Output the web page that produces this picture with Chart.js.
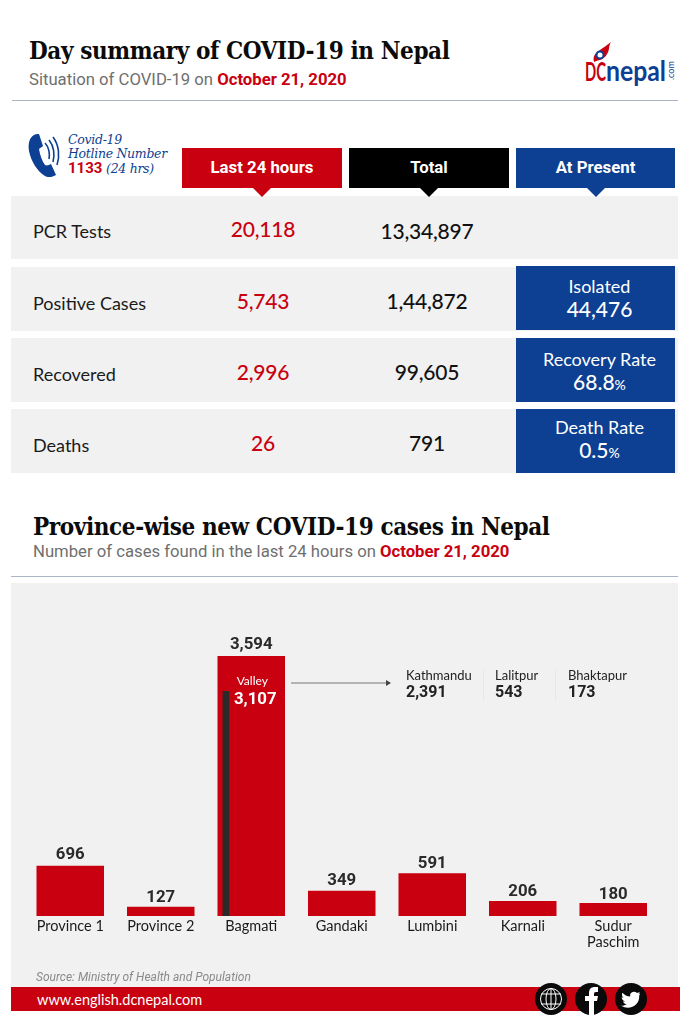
<!DOCTYPE html>
<html>
<head>
<meta charset="utf-8">
<title>Day summary of COVID-19 in Nepal</title>
<script src="https://cdn.jsdelivr.net/npm/chart.js@4/dist/chart.umd.min.js"></script>
<style>
html, body { margin: 0; padding: 0; background: #fff; }
#page { position: relative; z-index: 0; width: 694px; height: 1024px; overflow: hidden; font-family: Lato, sans-serif; color: #111; }
#page > * { position: absolute; }
.title { font-family: "DejaVu Serif Condensed", "DejaVu Serif", serif; font-stretch: condensed; font-weight: 700; font-size: 24px; letter-spacing: -0.4px; color: #0b0b0b; white-space: nowrap; line-height: 28px; }
.sub { font-family: Roboto, sans-serif; font-size: 16.7px; color: #6f6f6f; white-space: nowrap; line-height: 20px; }
.sub b { color: #c9000f; font-weight: 700; }
.rule { height: 1px; background: #a9b6c6; }
.head { top: 148px; height: 40px; line-height: 38px; width: 160px; text-align: center; color: #fff; font-family: Roboto, sans-serif; font-weight: 700; font-size: 16.8px; }
.head::after { content: ""; position: absolute; left: 50%; margin-left: -9px; top: 40px; border-left: 9px solid transparent; border-right: 9px solid transparent; border-top: 9px solid; border-top-color: inherit; }
.row { left: 11px; width: 667px; background: #f1f1f1; }
.rowLabel { left: 33px; font-size: 18px; line-height: 24px; color: #1a1a1a; }
.num { width: 160px; text-align: center; font-size: 21px; letter-spacing: -0.2px; font-weight: 500; line-height: 28px; }
.present { left: 516px; width: 159px; background: #0d3f92; color: #fff; text-align: center; font-size: 18px; line-height: 22px; padding-left: 8px; box-sizing: border-box; }
.present span { display: block; font-size: 21px; font-weight: 500; line-height: 24px; }
.present small { font-size: 14px; }
.panel { left: 11px; top: 583px; width: 667px; height: 404px; background: #f1f1f1; }
#chartBox { left: 11px; top: 583px; width: 667px; height: 404px; }
.district { font-size: 13px; line-height: 16px; color: #222; white-space: nowrap; }
.district b { display: block; font-family: Roboto, sans-serif; font-size: 16px; line-height: 17px; color: #222; }
.divider { width: 1px; top: 670px; height: 32px; background: #e8e8e8; }
.footer { left: 11px; top: 987px; width: 669px; height: 24px; background: #c9000f; color: #fff; font-size: 14.5px; line-height: 26px; }
.footer span { margin-left: 26px; }
.social { width: 32px; height: 32px; border-radius: 50%; background: #0a0a0a; top: 983px; color: #fff; text-align: center; }
</style>
</head>
<body>
<div id="page">
    <div class="title" style="left:29px;top:37px">Day summary of COVID-19 in Nepal</div>
    <div class="sub" style="left:29px;top:70px">Situation of COVID-19 on <b>October 21, 2020</b></div>

    <div style="left:584px;top:42px;width:92px;height:44px">
        <svg width="92" height="44" viewBox="0 0 92 44">
            <path d="M10 20 C8 12 14 10 16 8 C19 6 23 3 27 0 C24 5 26 8 23 12 C21 17 15 18 10 20Z" fill="#c9000f"/>
            <circle cx="16" cy="13" r="3.500" fill="#fff" stroke="#0d3f92" stroke-width="2"/>
            <text x="1" y="39" font-family="Lato" font-weight="700" font-size="27" fill="#c9000f" textLength="21" lengthAdjust="spacingAndGlyphs">DC</text>
            <text x="22" y="39" font-family="Lato" font-weight="700" font-size="29" fill="#0d3f92" textLength="60" lengthAdjust="spacingAndGlyphs">nepal</text>
            <text x="0" y="0" transform="translate(90,38) rotate(-90)" font-family="Lato" font-size="9" fill="#0d3f92">.com</text>
        </svg>
    </div>
    <div class="rule" style="left:12px;top:100px;width:666px"></div>

    <svg style="left:28px;top:134px" width="34" height="44" viewBox="0 0 34 44">
        <path d="M6 1 C1 4 0 10 1 17 C3 27 9 37 17 42 C20 44 25 43 28 41 L23 30 C21 31 19 32 17 31 C14 27 12 21 11 15 C12 14 14 13 15 12 L11 0 C9 0 7 0 6 1Z" fill="#0d3f92"/>
        <path d="M17 9 C21 13 22 20 21 25 M21 6 C26 12 27 21 25 28 M25 3 C31 11 32 22 29 31" fill="none" stroke="#0d3f92" stroke-width="1.6"/>
    </svg>
    <div style="left:68px;top:133px;font-family:'DejaVu Serif',serif;font-style:italic;font-size:12.5px;line-height:14px;color:#0d3f92;white-space:nowrap;letter-spacing:-0.3px">Covid-19<br>Hotline Number<br><b style="font-family:Roboto;font-style:normal;font-size:15px;color:#c9000f;letter-spacing:0">1133</b> (24 hrs)</div>

    <div class="head" style="left:182px;background:#c9000f;border-top-color:#c9000f">Last 24 hours</div>
    <div class="head" style="left:349px;background:#000;border-top-color:#000">Total</div>
    <div class="head" style="left:516px;width:159px;background:#0d3f92;border-top-color:#0d3f92">At Present</div>

    <div class="title" style="left:33px;top:513px">Province-wise new COVID-19 cases in Nepal</div>
    <div class="sub" style="left:33px;top:542px">Number of cases found in the last 24 hours on <b>October 21, 2020</b></div>
    <div class="rule" style="left:11px;top:576px;width:667px"></div>

    <div class="panel"></div>
    <div id="chartBox"><canvas id="provinceChart"></canvas></div>

    <svg style="left:290px;top:678px" width="104" height="10">
        <line x1="1" y1="5" x2="100" y2="5" stroke="#777" stroke-width="1"/>
        <path d="M96 2 L101 5 L96 8Z" fill="#444"/>
    </svg>

    <div style="left:36px;top:970px;font-family:Roboto,sans-serif;font-style:italic;font-size:12px;line-height:14px;color:#8a8a8a">Source: Ministry of Health and Population</div>
    <div class="footer"><span>www.english.dcnepal.com</span></div>
    <div class="social" style="left:535px">
        <svg width="32" height="32" viewBox="0 0 32 32" fill="none" stroke="#fff" stroke-width="1">
            <circle cx="16" cy="16" r="10.5"/>
            <ellipse cx="16" cy="16" rx="5" ry="10.5"/>
            <path d="M6 11 H26 M6 21 H26 M16 5.5 V26.5"/>
        </svg>
    </div>
    <div class="social" style="left:575px">
        <svg width="32" height="32" viewBox="0 0 32 32"><path d="M14 32 V18 H10 V13 H14 V10 C14 6 16 4 20 4 H23 V9 H21 C19.500 9 19 9.700 19 11 V13 H23 L22 18 H19 V32Z" fill="#fff"/></svg>
    </div>
    <div class="social" style="left:615px">
        <svg width="32" height="32" viewBox="0 0 32 32"><path d="M25 10.500 C24 11 23.500 11 23 11.200 C24 10.500 24.500 9.800 24.700 9 C23.800 9.500 23 9.800 22 10 C20 8 16 8.500 15.200 11.500 C15 12.300 15.100 13 15.200 13.500 C12 13.300 9.500 12 7.500 9.700 C6.500 11.500 7 13.500 8.500 14.800 C7.800 14.800 7.200 14.600 6.700 14.300 C6.700 16.300 8 17.800 10 18.300 C9.300 18.500 8.700 18.500 8 18.400 C8.600 20 10 21 11.800 21.100 C10 22.500 8 23 6 22.800 C15 28 25 22 24.200 12.500 C24.500 12 25 11.500 25 10.500Z" fill="#fff"/></svg>
    </div>
</div>

<script>
// Day summary table
const rowLabels = ['PCR Tests', 'Positive Cases', 'Recovered', 'Deaths'];
const last24Hours = ['20,118', '5,743', '2,996', '26'];
const totals = ['13,34,897', '1,44,872', '99,605', '791'];
const presentLabels = ['Isolated', 'Recovery Rate', 'Death Rate'];
const presentValues = ['44,476', '68.8<small>%</small>', '0.5<small>%</small>'];

// Province chart
const provinces = ['Province 1', 'Province 2', 'Bagmati', 'Gandaki', 'Lumbini', 'Karnali', ['Sudur', 'Paschim']];
const newCases = [696, 127, 3594, 349, 591, 206, 180];
const valleyCases = 3107;
const districts = ['Kathmandu', 'Lalitpur', 'Bhaktapur'];
const districtCases = ['2,391', '543', '173'];

const page = document.getElementById('page');

function addBlock(className, style, html) {
    const el = document.createElement('div');
    el.className = className;
    el.style.cssText = style;
    el.innerHTML = html;
    page.appendChild(el);
}

// Summary rows
const rowTops = [196, 267, 338, 409];
const rowHeights = [63, 64, 64, 64];
rowLabels.forEach((label, i) => {
    const top = rowTops[i];
    const shift = i > 0 ? 1 : 0;
    addBlock('row', `top:${top}px;height:${rowHeights[i]}px;z-index:-1`, '');
    addBlock('rowLabel', `top:${top + 23 + shift}px`, label);
    addBlock('num', `left:183px;top:${top + 19 + shift}px;color:#c9000f`, last24Hours[i]);
    addBlock('num', `left:347px;top:${top + 21 - shift}px`, totals[i]);
});
const presentPadding = [9, 10, 7];
presentLabels.forEach((label, i) => {
    addBlock('present', `top:${rowTops[i + 1] - (i === 0 ? 1 : 0)}px;height:64px;padding-top:${presentPadding[i]}px`, `${label}<span>${presentValues[i]}</span>`);
});

// District callout
const districtLeft = [406, 495, 568];
districts.forEach((name, i) => {
    addBlock('district', `left:${districtLeft[i]}px;top:667px`, `${name}<b>${districtCases[i]}</b>`);
});
addBlock('divider', 'left:483px', '');
addBlock('divider', 'left:555px', '');

const fmt = n => n.toLocaleString('en-US');

// Gap between a bar top and its value, the small bars sit closer
const labelGaps = [7, 5, 7, 6, 5, 5, 4];

// Writes the value above each bar and the valley figure inside Bagmati
const barLabels = {
    id: 'barLabels',
    afterDatasetsDraw(chart) {
        const { ctx } = chart;
        const bars = chart.getDatasetMeta(0).data;
        ctx.save();
        ctx.textAlign = 'center';
        ctx.textBaseline = 'alphabetic';
        ctx.fillStyle = '#2a2a2a';
        ctx.font = '700 16.8px Roboto';
        bars.forEach((bar, i) => {
            ctx.fillText(fmt(newCases[i]), bar.x, bar.y - labelGaps[i]);
        });
        const bagmati = bars[2];
        ctx.fillStyle = '#fff';
        ctx.font = '12px Lato';
        ctx.fillText('Valley', bagmati.x + 1, bagmati.y + 29);
        ctx.font = '700 16.8px Roboto';
        ctx.fillText(fmt(valleyCases), bagmati.x + 4, bagmati.y + 48);
        ctx.restore();
    }
};

new Chart(document.getElementById('provinceChart'), {
    type: 'bar',
    data: {
        labels: provinces,
        datasets: [
            {
                data: newCases,
                backgroundColor: '#c9000f',
                grouped: false,
                barPercentage: 1,
                categoryPercentage: 0.746,
                order: 2
            },
            {
                data: [{ x: 2.22, y: valleyCases }],
                xAxisID: 'xValley',
                backgroundColor: '#2a2a2a',
                grouped: false,
                barThickness: 6,
                order: 1
            }
        ]
    },
    options: {
        responsive: true,
        maintainAspectRatio: false,
        animation: false,
        layout: { padding: { left: 14, right: 19.5, top: 72.6, bottom: 0 } },
        plugins: {
            legend: { display: false },
            tooltip: { enabled: false }
        },
        scales: {
            x: {
                grid: { display: false, drawTicks: false },
                border: { display: false },
                ticks: {
                    color: '#1a1a1a',
                    font: { family: 'Lato', size: 14.5, lineHeight: 1.12 },
                    padding: 2,
                    maxRotation: 0,
                    autoSkip: false
                },
                afterFit(scale) { scale.height = 71; }
            },
            xValley: {
                type: 'linear',
                display: false,
                offset: false,
                min: 0,
                max: 7
            },
            y: {
                display: false,
                min: 0,
                max: 3600
            }
        }
    },
    plugins: [barLabels]
});
</script>
</body>
</html>
